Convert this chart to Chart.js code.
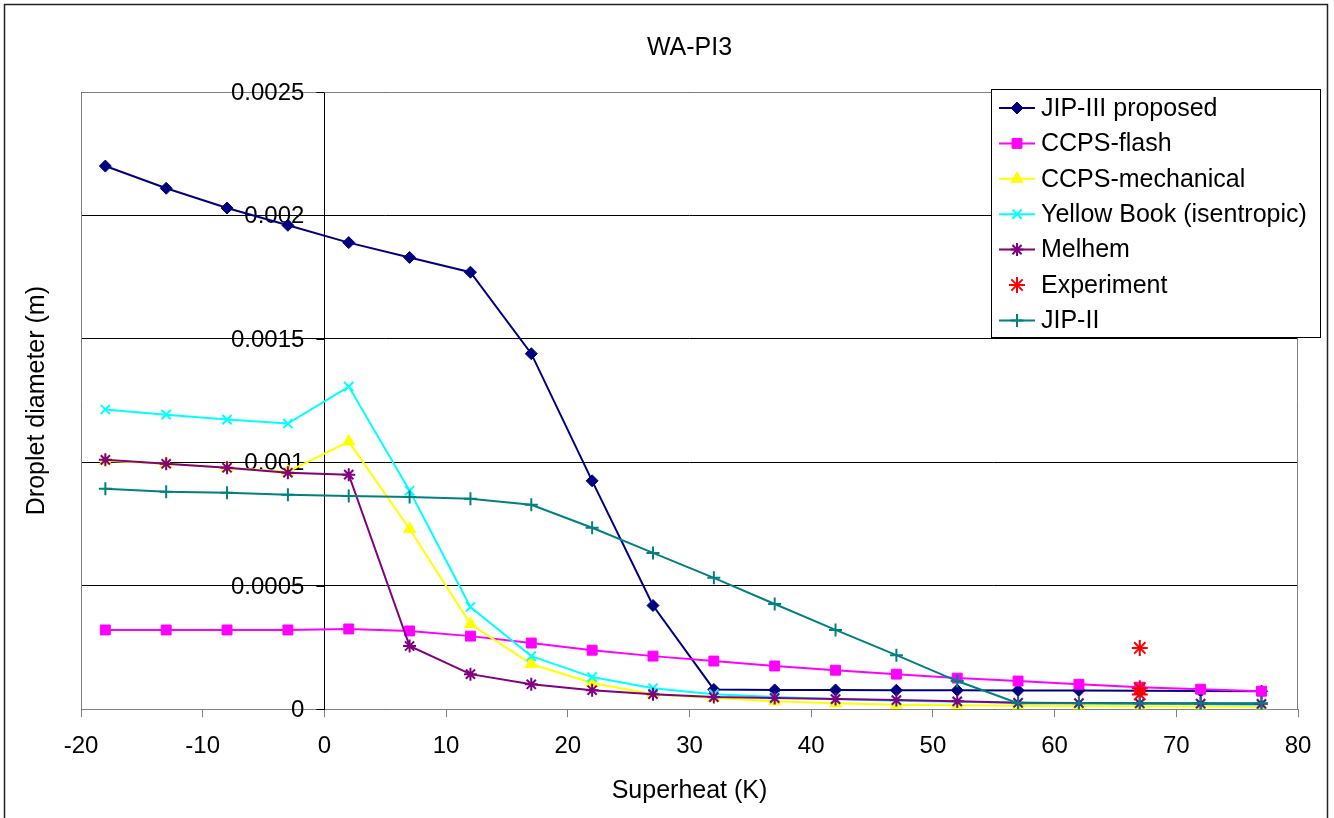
<!DOCTYPE html>
<html lang="en">
<head>
    <meta charset="UTF-8">
    <title>WA-PI3</title>
    <script src="https://cdn.jsdelivr.net/npm/chart.js"></script>
    <style>
        body {
            margin: 0;
            background-color: #fff;
        }
        canvas {
            display: block;
        }
    </style>
</head>
<body>
    <canvas id="dropletChart" width="1334" height="818"></canvas>

    <script>
        // Superheat (K) values shared by all model series
        const superheat = [-18, -13, -8, -3, 2, 7, 12, 17, 22, 27, 32, 37, 42, 47, 52, 57, 62, 67, 72, 77];

        // Droplet diameter (m)
        const jip3 = [0.00220, 0.00211, 0.00203, 0.00196, 0.00189, 0.00183, 0.00177, 0.00144, 0.000925, 0.00042,
            0.00008, 0.000078, 0.000078, 0.000077, 0.000077, 0.000076, 0.000076, 0.000075, 0.000074, 0.000073];
        const ccpsFlash = [0.000321, 0.000321, 0.000321, 0.000321, 0.000325, 0.000317, 0.000296, 0.000268, 0.000239, 0.000215,
            0.000195, 0.000175, 0.000158, 0.000142, 0.000126, 0.000114, 0.000101, 0.000089, 0.000081, 0.000073];
        const ccpsMech = [0.001006, 0.000994, 0.000978, 0.000962, 0.001084, 0.00073, 0.000345, 0.000183, 0.000106, 0.000061,
            0.000045, 0.000032, 0.000024, 0.000018, 0.000016, 0.000014, 0.000013, 0.000012, 0.000011, 0.00001];
        const yellowBook = [0.001214, 0.001193, 0.001173, 0.001157, 0.001307, 0.000885, 0.000414, 0.000215, 0.00013, 0.000085,
            0.000061, 0.000049, 0.000041, 0.000034, 0.00003, 0.000026, 0.000024, 0.000022, 0.00002, 0.000018];
        const melhem = [0.00101, 0.000994, 0.000978, 0.000958, 0.00095, 0.000256, 0.000142, 0.000101, 0.000077, 0.000061,
            0.000049, 0.000045, 0.000041, 0.000037, 0.000032, 0.000026, 0.000025, 0.000024, 0.000023, 0.000022];
        const jip2 = [0.000893, 0.000881, 0.000877, 0.000869, 0.000864, 0.00086, 0.000852, 0.000828, 0.000735, 0.000633,
            0.000532, 0.000426, 0.000321, 0.000219, 0.000114, 0.000024, 0.000024, 0.000024, 0.000024, 0.000024];

        // Experimental points
        const expX = [67, 67, 67];
        const expY = [0.000248, 0.000085, 0.00006];

        const xTicks = [-20, -10, 0, 10, 20, 30, 40, 50, 60, 70, 80];
        const yTicks = [0, 0.0005, 0.001, 0.0015, 0.002, 0.0025];
        const yTickLabels = ['0', '0.0005', '0.001', '0.0015', '0.002', '0.0025'];

        const FONT = "'Liberation Sans', Arial, sans-serif";

        function pts(ys) {
            return ys.map((y, i) => ({ x: superheat[i], y: y }));
        }

        function lineSeries(label, ys, color, style, radius, filled) {
            return {
                label: label,
                data: pts(ys),
                borderColor: color,
                backgroundColor: color,
                borderWidth: 2,
                pointStyle: style,
                pointRadius: radius,
                pointBorderColor: color,
                pointBackgroundColor: filled ? color : 'transparent',
                pointBorderWidth: filled ? 1 : 2,
                showLine: true,
                tension: 0
            };
        }

        const datasets = [
            lineSeries('JIP-III proposed', jip3, '#000080', 'rectRot', 6, true),
            lineSeries('CCPS-flash', ccpsFlash, '#FF00FF', 'rect', 7, true),
            lineSeries('CCPS-mechanical', ccpsMech, '#FFFF00', 'triangle', 7, true),
            lineSeries('Yellow Book (isentropic)', yellowBook, '#00FFFF', 'crossRot', 6.5, false),
            lineSeries('Melhem', melhem, '#800080', 'star', 6.5, false),
            {
                label: 'Experiment',
                data: expX.map((x, i) => ({ x: x, y: expY[i] })),
                borderColor: '#FF0000',
                backgroundColor: '#FF0000',
                pointStyle: 'star',
                pointRadius: 8,
                pointBorderWidth: 2,
                showLine: false
            },
            lineSeries('JIP-II', jip2, '#008080', 'cross', 6.5, false)
        ];
        // Excel draws later series on top
        datasets.forEach((d, i) => { d.order = datasets.length - i; });

        const decorPlugin = {
            id: 'decor',
            beforeDraw(chart) {
                const ctx = chart.ctx;
                ctx.save();
                ctx.fillStyle = '#fff';
                ctx.fillRect(0, 0, chart.width, chart.height);
                ctx.strokeStyle = '#222';
                ctx.lineWidth = 1.5;
                ctx.strokeRect(4.5, 4.5, 1323, 830);
                ctx.restore();
            },
            beforeDatasetsDraw(chart) {
                const a = chart.chartArea;
                const ctx = chart.ctx;
                ctx.save();
                ctx.strokeStyle = '#808080';
                ctx.lineWidth = 1;
                ctx.beginPath();
                ctx.moveTo(a.left + 0.5, a.bottom);
                ctx.lineTo(a.left + 0.5, a.top + 0.5);
                ctx.lineTo(a.right - 0.5, a.top + 0.5);
                ctx.lineTo(a.right - 0.5, a.bottom);
                ctx.stroke();

                // y tick labels sit left of the axis that crosses at x = 0
                const xs = chart.scales.x, ys = chart.scales.y;
                const ax = xs.getPixelForValue(0);
                ctx.strokeStyle = '#000';
                ctx.fillStyle = '#000';
                ctx.font = '24px ' + FONT;
                ctx.textAlign = 'right';
                ctx.textBaseline = 'middle';
                yTicks.forEach((v, i) => {
                    const py = Math.round(ys.getPixelForValue(v)) + 0.5;
                    ctx.beginPath();
                    ctx.moveTo(ax - 8, py);
                    ctx.lineTo(ax, py);
                    ctx.stroke();
                    ctx.fillText(yTickLabels[i], ax - 20, py + 1);
                });
                ctx.restore();
            },
            afterDraw(chart) {
                const ctx = chart.ctx;
                const a = chart.chartArea;
                ctx.save();

                // y axis title, kept at the far left like the original
                ctx.translate(37, (a.top + a.bottom) / 2);
                ctx.rotate(-Math.PI / 2);
                ctx.fillStyle = '#000';
                ctx.font = '25px ' + FONT;
                ctx.textAlign = 'center';
                ctx.textBaseline = 'middle';
                ctx.fillText('Droplet diameter (m)', 0, 0);
                ctx.restore();

                // legend box drawn over the plot area
                ctx.save();
                const bx = 991.5, by = 89.5, bw = 329, bh = 248;
                ctx.fillStyle = '#fff';
                ctx.fillRect(bx, by, bw, bh);
                ctx.strokeStyle = '#000';
                ctx.lineWidth = 1;
                ctx.strokeRect(bx, by, bw, bh);
                ctx.font = '25px ' + FONT;
                ctx.textBaseline = 'middle';
                ctx.textAlign = 'left';
                chart.data.datasets.forEach((ds, row) => {
                    const y = 108 + row * 35.4;
                    if (ds.showLine !== false) {
                        ctx.strokeStyle = ds.borderColor;
                        ctx.lineWidth = 2;
                        ctx.beginPath();
                        ctx.moveTo(999, y);
                        ctx.lineTo(1035, y);
                        ctx.stroke();
                    }
                    if (Chart.helpers && Chart.helpers.drawPoint) {
                        ctx.fillStyle = ds.pointBackgroundColor || ds.backgroundColor;
                        ctx.strokeStyle = ds.pointBorderColor || ds.borderColor;
                        ctx.lineWidth = ds.pointBorderWidth;
                        Chart.helpers.drawPoint(ctx, {
                            pointStyle: ds.pointStyle,
                            radius: ds.pointRadius,
                            rotation: 0,
                            borderWidth: ds.pointBorderWidth
                        }, 1017, y);
                    }
                    ctx.fillStyle = '#000';
                    ctx.fillText(ds.label, 1041, y + 1);
                });
                ctx.restore();
            }
        };

        const ctx = document.getElementById('dropletChart').getContext('2d');
        new Chart(ctx, {
            type: 'scatter',
            data: { datasets: datasets },
            plugins: [decorPlugin],
            options: {
                responsive: false,
                animation: false,
                layout: {
                    padding: { left: 81, right: 36, top: 0, bottom: 12 }
                },
                plugins: {
                    legend: { display: false },
                    tooltip: { enabled: false },
                    title: {
                        display: true,
                        text: 'WA-PI3',
                        color: '#000',
                        font: { family: FONT, size: 25, weight: 'normal' },
                        padding: { top: 33, bottom: 29 }
                    }
                },
                scales: {
                    x: {
                        type: 'linear',
                        min: -20,
                        max: 80,
                        afterBuildTicks: (axis) => { axis.ticks = xTicks.map(v => ({ value: v })); },
                        ticks: {
                            color: '#000',
                            font: { family: FONT, size: 24 },
                            padding: 15,
                            maxRotation: 0
                        },
                        grid: {
                            drawOnChartArea: false,
                            drawTicks: true,
                            tickLength: 8,
                            color: '#808080'
                        },
                        border: { color: '#808080', width: 1 },
                        title: {
                            display: true,
                            text: 'Superheat (K)',
                            color: '#000',
                            font: { family: FONT, size: 25 },
                            padding: { top: 0, bottom: 0 }
                        }
                    },
                    y: {
                        type: 'linear',
                        position: { x: 0 },
                        min: 0,
                        max: 0.0025,
                        afterBuildTicks: (axis) => { axis.ticks = yTicks.map(v => ({ value: v })); },
                        ticks: {
                            display: false
                        },
                        grid: {
                            color: '#000',
                            lineWidth: 1,
                            drawTicks: false
                        },
                        border: { color: '#000', width: 1 }
                    }
                }
            }
        });
    </script>
</body>
</html>
